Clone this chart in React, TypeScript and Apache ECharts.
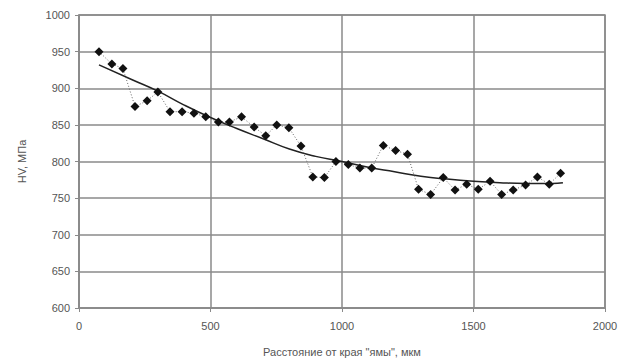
import React, { useEffect, useRef } from "react";
import * as echarts from "echarts";

const distance = [76, 125, 167, 213, 259, 300, 346, 392, 437, 482, 530, 572, 618, 666, 710, 752, 798, 844, 889, 933, 977, 1024, 1068, 1113, 1157, 1204, 1249, 1291, 1337, 1385, 1430, 1474, 1518, 1563, 1607, 1651, 1698, 1743, 1788, 1831];
const hardness = [950, 933, 927, 875, 883, 895, 868, 868, 866, 861, 854, 854, 861, 847, 835, 850, 846, 821, 779, 778, 800, 796, 791, 791, 822, 815, 810, 762, 755, 778, 761, 769, 762, 773, 755, 761, 768, 779, 769, 784];

const trendX = [76, 200, 300, 400, 500, 600, 700, 800, 900, 1000, 1100, 1200, 1300, 1400, 1500, 1600, 1700, 1800, 1840];
const trendY = [932, 912, 896, 877, 860, 845, 831, 817, 807, 800, 792, 786, 780, 776, 773, 771, 770, 770, 771];

const xTicks = [0, 500, 1000, 1500, 2000];
const yTicks = [600, 650, 700, 750, 800, 850, 900, 950, 1000];

export default function App() {
  const ref = useRef<HTMLDivElement>(null);
  useEffect(() => {
    if (!ref.current) return;
    const chart = echarts.init(ref.current, null, { renderer: "svg" });
    const textColor = "#555";
    const gridColor = "#8a8a8a";
    const font = "Liberation Sans, Arial, sans-serif";
    chart.setOption({
      animation: false,
      backgroundColor: "#fff",
      grid: { left: 79, right: 22, top: 15, bottom: 55, show: true, borderColor: gridColor, borderWidth: 1.5 },
      xAxis: {
        type: "value",
        min: xTicks[0],
        max: xTicks[xTicks.length - 1],
        interval: 500,
        name: "Расстояние от края \"ямы\", мкм",
        nameLocation: "middle",
        nameGap: 38,
        nameTextStyle: { color: textColor, fontSize: 11, fontFamily: font },
        axisLine: { show: true, lineStyle: { color: gridColor, width: 1.5 } },
        axisTick: { show: true, length: 4, lineStyle: { color: gridColor } },
        axisLabel: { color: textColor, fontSize: 11, margin: 12, fontFamily: font, formatter: (v: number) => String(v) },
        splitLine: { show: true, lineStyle: { color: gridColor, width: 1.5 } },
      },
      yAxis: {
        type: "value",
        min: yTicks[0],
        max: yTicks[yTicks.length - 1],
        interval: 50,
        name: "HV, МПа",
        nameLocation: "middle",
        nameGap: 52,
        nameRotate: 90,
        nameTextStyle: { color: textColor, fontSize: 11, fontFamily: font },
        axisLine: { show: true, lineStyle: { color: gridColor, width: 1.5 } },
        axisTick: { show: true, length: 4, lineStyle: { color: gridColor } },
        axisLabel: { color: textColor, fontSize: 11, margin: 9, fontFamily: font, formatter: (v: number) => String(v) },
        splitLine: { show: true, lineStyle: { color: gridColor, width: 1.5 } },
      },
      series: [
        {
          type: "line",
          data: distance.map((d, i) => [d, hardness[i]]),
          symbol: "diamond",
          symbolSize: 9,
          itemStyle: { color: "#111" },
          lineStyle: { color: "#666", width: 1, type: [1, 2] },
          z: 3,
        },
        {
          type: "line",
          data: trendX.map((d, i) => [d, trendY[i]]),
          symbol: "none",
          smooth: true,
          lineStyle: { color: "#222", width: 1.5 },
          z: 2,
        },
      ],
    });
    return () => chart.dispose();
  }, []);
  return <div ref={ref} style={{ width: 627, height: 363, position: "absolute", left: 0, top: 0 }} />;
}
